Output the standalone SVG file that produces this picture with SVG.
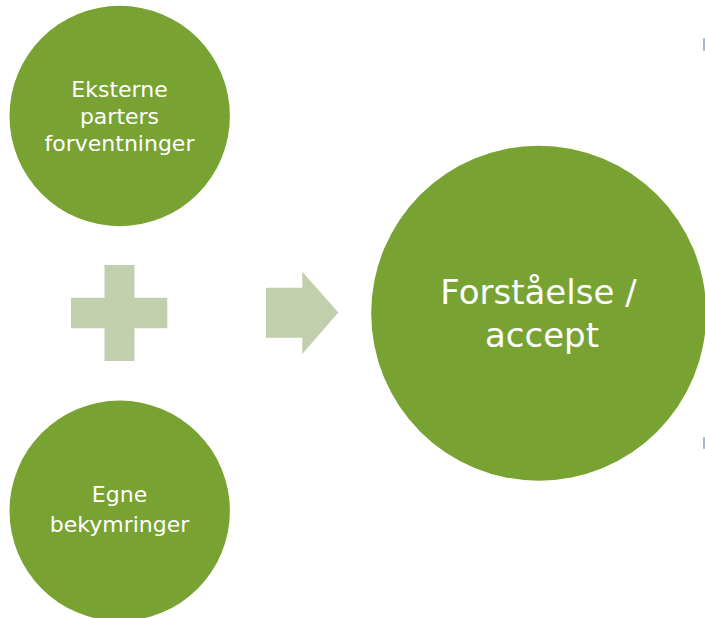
<svg xmlns="http://www.w3.org/2000/svg" width="705" height="618" viewBox="0 0 705 618">
<style>
.node{fill:#78A232}
.lbl{fill:#FFFFFF;font-family:"DejaVu Sans","Liberation Sans",sans-serif;text-anchor:middle}
.sm{font-size:22px}
.lg{font-size:34px}
.sym{fill:#C1CFAD}
.edge{fill:#A7B6CB}
</style>
<rect x="0" y="0" width="705" height="618" fill="#FFFFFF"/>
<g id="edge-marks">
<rect class="edge" x="703" y="38" width="2" height="13" rx="1"/>
<rect class="edge" x="703" y="437" width="2" height="12" rx="1"/>
</g>
<g id="connectors">
<path id="plus" class="sym" d="M104.5,265 H134.5 V297.7 H167.3 V328.3 H134.5 V361 H104.5 V328.3 H71 V297.7 H104.5 Z"/>
<path id="arrow" class="sym" d="M266,287.7 H302.3 V271.7 L338.3,312.5 L302.3,354 V337.7 H266 Z"/>
</g>
<g id="node-eksterne">
<circle class="node" cx="119.7" cy="116" r="110.2"/>
<text class="lbl sm" x="119.5" y="96.7">Eksterne</text>
<text class="lbl sm" x="119.5" y="124">parters</text>
<text class="lbl sm" x="119.5" y="151">forventninger</text>
</g>
<g id="node-egne">
<circle class="node" cx="119.7" cy="510.8" r="110.2"/>
<text class="lbl sm" x="119.5" y="502.3">Egne</text>
<text class="lbl sm" x="119.5" y="531.5">bekymringer</text>
</g>
<g id="node-forstaaelse">
<circle class="node" cx="538.7" cy="313.2" r="167.5"/>
<text class="lbl lg" x="538.5" y="304">Forståelse /</text>
<text class="lbl lg" x="542" y="346.7">accept</text>
</g>
</svg>
